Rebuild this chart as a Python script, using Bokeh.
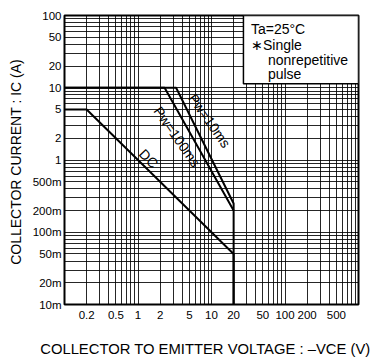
from bokeh.plotting import figure
from bokeh.models import FixedTicker, Label, BoxAnnotation, ColumnDataSource
from bokeh.core.properties import value
from bokeh.embed import file_html
from bokeh.resources import INLINE

# ---- data ----
x_ticks = [0.2, 0.5, 1, 2, 5, 10, 20, 50, 100, 200, 500]
x_tick_labels = ["0.2", "0.5", "1", "2", "5", "10", "20", "50", "100", "200", "500"]
y_ticks = [0.01, 0.02, 0.05, 0.1, 0.2, 0.5, 1, 2, 5, 10, 20, 50, 100]
y_tick_labels = ["10m", "20m", "50m", "100m", "200m", "500m", "1", "2", "5", "10", "20", "50", "100"]

dc_vce = [0.1, 0.2, 20, 20]
dc_ic = [5, 5, 0.05, 0.01]
pw100_vce = [0.1, 2.3, 20]
pw100_ic = [10, 10, 0.2]
pw10_vce = [0.1, 3.3, 20, 20]
pw10_ic = [10, 10, 0.25, 0.01]

curve_labels = ["Pw=10ms", "Pw=100ms", "DC"]
curve_label_vce = [9.4, 3.4, 1.4]
curve_label_ic = [3.5, 2.1, 1.05]
curve_label_angle = [-55, -55, -46]

note_lines = ["Ta=25°C", "∗Single", "nonrepetitive", "pulse"]
note_indent = [7.5, 7.5, 24.5, 24.5]
note_baseline = [13, 29, 44, 58]
note_box_left = 27.2
note_box_bottom = 11.4

grid_x = [m * 10.0 ** e for e in range(-1, 3) for m in range(1, 10)] + [1000]
grid_y = [m * 10.0 ** e for e in range(-2, 2) for m in range(1, 10)] + [100]

FONT = "Liberation Sans"

p = figure(width=377, height=360, x_axis_type="log", y_axis_type="log",
           x_range=(0.1, 1000), y_range=(0.01, 100),
           output_backend="svg", toolbar_location=None,
           min_border_left=64, min_border_right=19,
           min_border_top=15, min_border_bottom=56)

p.background_fill_color = "white"
p.border_fill_color = "white"
p.outline_line_color = "black"
p.outline_line_width = 2

# grid
p.xgrid.ticker = FixedTicker(ticks=grid_x)
p.ygrid.ticker = FixedTicker(ticks=grid_y)
for g in (p.xgrid, p.ygrid):
    g.grid_line_color = "black"
    g.grid_line_alpha = 0.85
    g.grid_line_width = 1

# axes
p.xaxis.ticker = FixedTicker(ticks=x_ticks)
p.yaxis.ticker = FixedTicker(ticks=y_ticks)
p.xaxis.major_label_overrides = dict(zip(x_ticks, x_tick_labels))
p.yaxis.major_label_overrides = dict(zip(y_ticks, y_tick_labels))
for ax in (p.xaxis, p.yaxis):
    ax.axis_line_color = None
    ax.major_tick_line_color = None
    ax.minor_tick_line_color = None
    ax.major_tick_out = 0
    ax.major_tick_in = 0
    ax.major_label_text_font = FONT
    ax.major_label_text_font_size = "11.5px"
    ax.major_label_text_color = "black"
    ax.axis_label_text_font = FONT
    ax.axis_label_text_font_style = "normal"
    ax.axis_label_text_color = "black"
p.xaxis.axis_label_text_font_size = "14.8px"
p.yaxis.axis_label_text_font_size = "14px"
p.xaxis.major_label_standoff = 6
p.yaxis.major_label_standoff = 3
p.xaxis.axis_label_standoff = 19
p.yaxis.axis_label_standoff = 6
p.xaxis.axis_label = "COLLECTOR  TO  EMITTER  VOLTAGE : –VCE (V)"
p.yaxis.axis_label = "COLLECTOR  CURRENT : IC (A)"

# curves
p.line(dc_vce, dc_ic, line_color="black", line_width=2)
p.line(pw100_vce, pw100_ic, line_color="black", line_width=2)
p.line(pw10_vce, pw10_ic, line_color="black", line_width=2)

src = ColumnDataSource(dict(x=curve_label_vce, y=curve_label_ic,
                            t=curve_labels, a=curve_label_angle))
p.text(x="x", y="y", text="t", angle="a", angle_units="deg", source=src,
       text_align="center", text_baseline="middle",
       text_font=value(FONT), text_font_size="14px", text_color="black")

# note box
box = BoxAnnotation(left=note_box_left, bottom=note_box_bottom,
                    fill_color="white", fill_alpha=1.0,
                    line_color="black", line_width=1.5, line_alpha=1.0)
p.add_layout(box)
for txt, ind, bl in zip(note_lines, note_indent, note_baseline):
    p.add_layout(Label(x=note_box_left, y=100, x_offset=ind, y_offset=-bl,
                       text=txt, text_baseline="alphabetic", text_align="left",
                       text_font=FONT, text_font_size="14px", text_color="black"))

open("out.html", "w").write(file_html(p, INLINE))
